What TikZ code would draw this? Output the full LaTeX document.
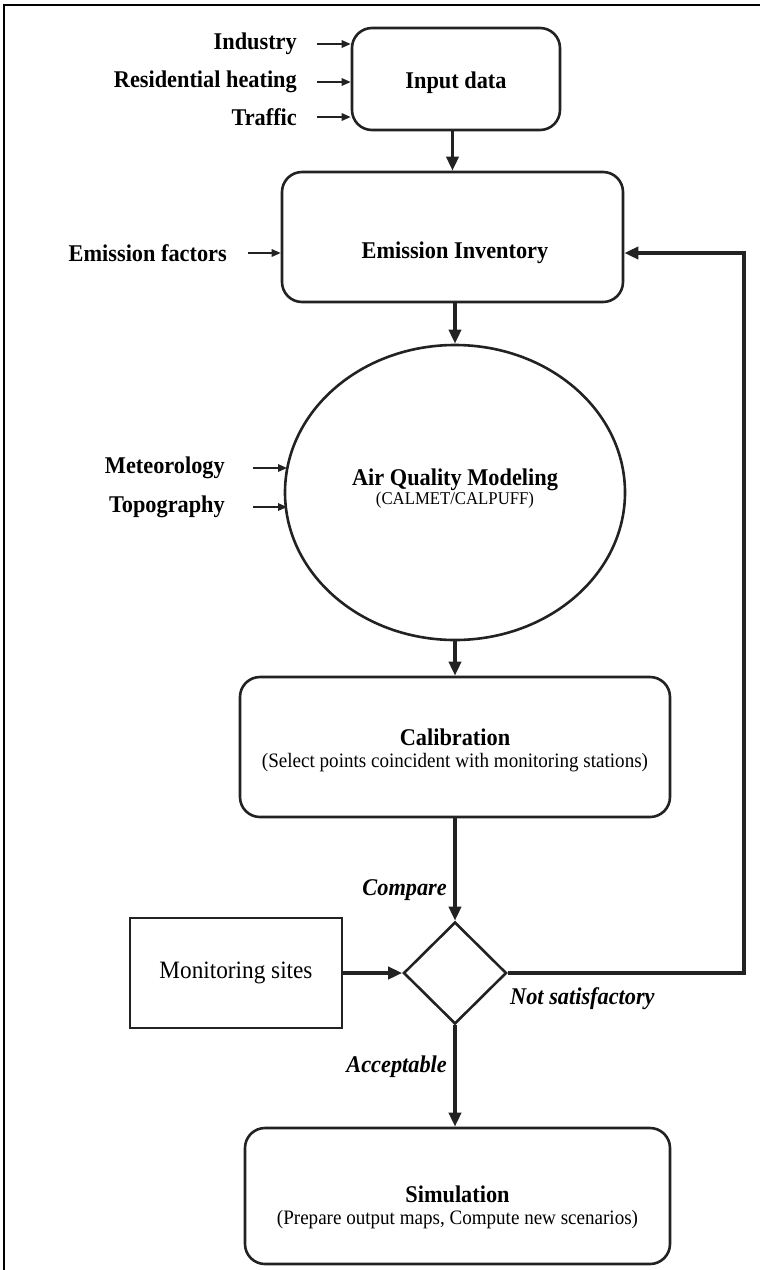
\documentclass[tikz,border=0pt]{standalone}
\usepackage{fontspec}
\setmainfont{Liberation Serif}[FakeStretch=0.93]
\usetikzlibrary{shapes.geometric,arrows.meta}
\definecolor{ink}{HTML}{222222}
\begin{document}
\begin{tikzpicture}[x=1pt,y=-1pt,
  big/.style={font=\fontsize{24}{27}\selectfont\bfseries},
  lbl/.style={font=\fontsize{24}{27}\selectfont\bfseries\itshape},
  rbox/.style={draw=ink, line width=2.6pt, rounded corners=20pt, inner sep=0pt, align=center},
  sbox/.style={draw=ink, line width=2.6pt, inner sep=0pt, align=center},
  twoline/.style={align=center, inner sep=0pt, font=\fontsize{20.5}{25}\selectfont},
  flow/.style={draw=ink, line width=3.8pt, -{Triangle[length=14pt,width=12pt]}},
  feed/.style={draw=ink, line width=1.6pt, -{Triangle[length=9pt,width=7.5pt]}}]
\useasboundingbox (0,0) rectangle (760,1270);
% frame
\draw[line width=2.5pt] (4,1272) -- (4,5) -- (762,5);

% main chain
\node[rbox, minimum width=208pt, minimum height=102pt] (input) at (456,79) {};
\node[big] (inputtxt) at (456,83) {Input data};
\node[rbox, minimum width=341pt, minimum height=130pt] (ei) at (452.5,237) {};
\node[big] (eitxt) at (455,253) {Emission Inventory};
\node[ellipse, draw=ink, line width=2.6pt, inner sep=0pt, minimum width=340pt, minimum height=295pt] (aqm) at (455,492.5) {};
\node[twoline] (aqmtxt) at (455,489)
  {{\fontsize{24}{27}\selectfont\bfseries Air Quality Modeling}\\[-6pt]{\fontsize{18}{21}\selectfont (CALMET/CALPUFF)}};
\node[rbox, minimum width=430pt, minimum height=140pt] (cal) at (455,747) {};
\node[twoline] (caltxt) at (455,750)
  {{\fontsize{24}{27}\selectfont\bfseries Calibration}\\[-3pt](Select points coincident with monitoring stations)};
\node[diamond, draw=ink, line width=2.6pt, inner sep=0pt, shape aspect=1, minimum width=103pt, minimum height=102pt] (dia) at (455,973) {};
\node[sbox, minimum width=212pt, minimum height=110pt, font=\fontsize{25}{28}\selectfont] (mon) at (236,973) {Monitoring sites};
\node[rbox, minimum width=425pt, minimum height=136pt] (sim) at (457.5,1196) {};
\node[twoline] (simtxt) at (457.5,1207)
  {{\fontsize{24}{27}\selectfont\bfseries Simulation}\\[-3pt](Prepare output maps, Compute new scenarios)};

% side inputs
\node[big, anchor=east, inner sep=0pt] (ind) at (297,44) {Industry};
\node[big, anchor=east, inner sep=0pt] (res) at (297,82) {Residential heating};
\node[big, anchor=east, inner sep=0pt] (tra) at (297,117) {Traffic};
\node[big, anchor=east, inner sep=0pt] (ef) at (227,253) {Emission factors};
\node[big, anchor=east, inner sep=0pt] (met) at (225,468) {Meteorology};
\node[big, anchor=east, inner sep=0pt] (top) at (225,507) {Topography};

\draw[feed] ([xshift=20pt]ind.east) -- (ind.east -| input.west);
\draw[feed] ([xshift=20pt]res.east) -- (res.east -| input.west);
\draw[feed] ([xshift=20pt]tra.east) -- (tra.east -| input.west);
\draw[feed] ([xshift=21pt]ef.east) -- (ef.east -| ei.west);
\coordinate (mx) at (287,0);
\draw[feed] ([xshift=28pt]met.east) -- (met.east -| mx);
\draw[feed] ([xshift=28pt]top.east) -- (top.east -| mx);

% flow connectors
\draw[flow] (input.south -| ei.north) -- (ei.north);
\draw[flow] (ei.south -| aqm.north) -- (aqm.north);
\draw[flow] (aqm.south) -- (aqm.south |- cal.north);
\draw[flow] (cal.south) -- (dia.north);
\draw[flow] (mon.east) -- (dia.west);
\draw[flow] (dia.south) -- (dia.south |- sim.north);
\coordinate (fx) at (744,0);
\draw[flow] (dia.east) -- (dia.east -| fx) |- (eitxt.east -| ei.east);

% branch labels
\node[lbl, anchor=east, inner sep=0pt] (cmp) at (447,890) {Compare};
\node[lbl, anchor=east, inner sep=0pt] (acc) at (447,1067) {Acceptable};
\node[lbl, anchor=west, inner sep=0pt] (ns) at (510,999) {Not satisfactory};
\end{tikzpicture}
\end{document}
